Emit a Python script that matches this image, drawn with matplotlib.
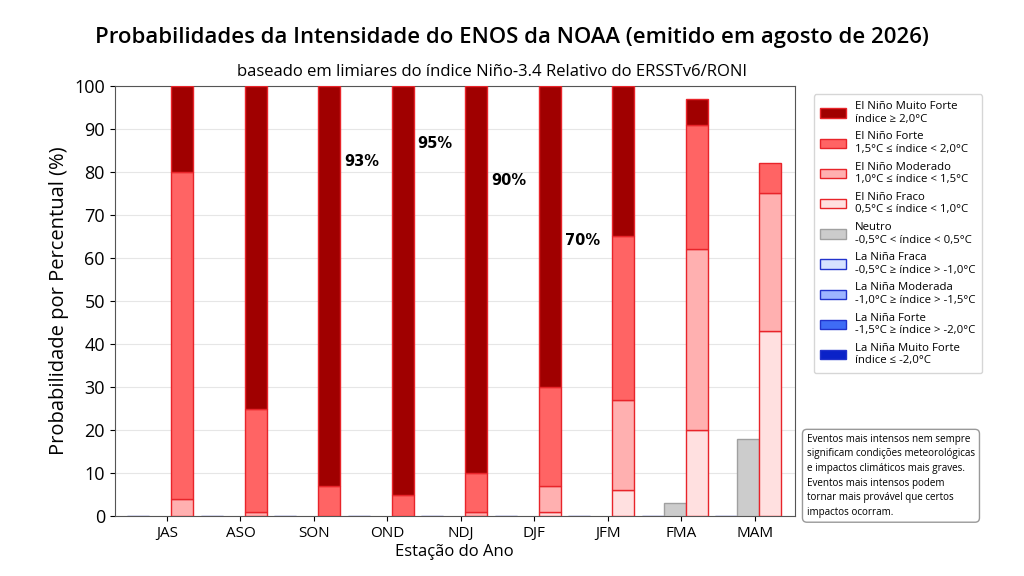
import matplotlib
matplotlib.use("Agg")
import matplotlib.pyplot as plt
import matplotlib.patches as mpatches
import numpy as np

plt.rcParams['font.family'] = ['Open Sans', 'DejaVu Sans']

seasons = ["JAS", "ASO", "SON", "OND", "NDJ", "DJF", "JFM", "FMA", "MAM"]

# El Nino categories (stacked, %)
nino_fraco = [0, 0, 0, 0, 0, 1, 6, 20, 43]
nino_moderado = [4, 1, 0, 0, 1, 6, 21, 42, 32]
nino_forte = [76, 24, 7, 5, 9, 23, 38, 29, 7]
nino_muito_forte = [20, 75, 93, 95, 90, 70, 35, 6, 0]
neutro = [0, 0, 0, 0, 0, 0, 0, 3, 18]
# La Nina categories (%)
nina_fraca = [0, 0, 0, 0, 0, 0, 0, 0, 0]
nina_moderada = [0, 0, 0, 0, 0, 0, 0, 0, 0]
nina_forte = [0, 0, 0, 0, 0, 0, 0, 0, 0]
nina_muito_forte = [0, 0, 0, 0, 0, 0, 0, 0, 0]

# percentage annotations
pct_labels = ["93%", "95%", "90%", "70%"]
pct_idx = [2, 3, 4, 5]
pct_y = [82.5, 86.5, 78, 64]

nino_labels = [
    "El Niño Muito Forte\níndice ≥ 2,0°C",
    "El Niño Forte\n1,5°C ≤ índice < 2,0°C",
    "El Niño Moderado\n1,0°C ≤ índice < 1,5°C",
    "El Niño Fraco\n0,5°C ≤ índice < 1,0°C",
]
neutro_label = "Neutro\n-0,5°C < índice < 0,5°C"
nina_labels = [
    "La Niña Fraca\n-0,5°C ≥ índice > -1,0°C",
    "La Niña Moderada\n-1,0°C ≥ índice > -1,5°C",
    "La Niña Forte\n-1,5°C ≥ índice > -2,0°C",
    "La Niña Muito Forte\níndice ≤ -2,0°C",
]

nino_colors = ["#a00000", "#ff6464", "#ffb0b0", "#ffe0e0"]
nino_edge = "#e8242a"
neutro_color = "#cccccc"
neutro_edge = "#a0a0a0"
nina_colors = ["#d6e2ff", "#9db4ff", "#3f6cf5", "#0a22c8"]
nina_edge = "#2233cc"

fig = plt.figure(figsize=(10.24, 5.76), dpi=100)
ax = fig.add_axes([0.112, 0.104, 0.664, 0.747])

x = np.arange(len(seasons))
w = 0.3

# La Nina stack (left)
bottom = np.zeros(len(seasons))
for vals, col in zip([nina_fraca, nina_moderada, nina_forte, nina_muito_forte], nina_colors):
    ax.bar(x - 0.39, vals, w, bottom=bottom, color=col, edgecolor="#5060c0", linewidth=0.8, zorder=3)
    bottom += np.array(vals)

# Neutral (middle)
ax.bar(x - 0.09, neutro, w, color=neutro_color,
       edgecolor=[neutro_edge if t > 0 else "none" for t in neutro], linewidth=1, zorder=3)

# El Nino stack (right)
bottom = np.zeros(len(seasons))
for vals, col in zip([nino_fraco, nino_moderado, nino_forte, nino_muito_forte], nino_colors[::-1]):
    v = np.array(vals)
    ax.bar(x + 0.21, v, w, bottom=bottom, color=col,
           edgecolor=[nino_edge if t > 0 else "none" for t in v], linewidth=1, zorder=3)
    bottom += v

for lab, i, yy in zip(pct_labels, pct_idx, pct_y):
    ax.text(i + 0.65, yy, lab, fontsize=10.5, fontweight="bold", family="DejaVu Sans",
            ha="center", va="center", zorder=4)

ax.set_xlim(-0.71, 8.54)
ax.set_ylim(0, 100)
ax.set_yticks(np.arange(0, 101, 10))
ax.set_xticks(x)
ax.set_xticklabels(seasons, fontsize=11)
ax.tick_params(axis="y", labelsize=13)
ax.grid(axis="y", color="#e6e6e6", linewidth=0.8, zorder=0)
ax.set_axisbelow(True)
for s in ax.spines.values():
    s.set_color("#555555")
ax.set_ylabel("Probabilidade por Percentual (%)", fontsize=14.5)
ax.set_xlabel("Estação do Ano", fontsize=12, labelpad=2)

fig.text(0.5, 0.935, "Probabilidades da Intensidade do ENOS da NOAA (emitido em agosto de 2026)",
         ha="center", va="center", fontsize=15.9, fontweight="semibold")
fig.text(0.48, 0.875, "baseado em limiares do índice Niño-3.4 Relativo do ERSSTv6/RONI",
         ha="center", va="center", fontsize=12)

handles = []
for lab, col in zip(nino_labels, nino_colors):
    handles.append(mpatches.Patch(facecolor=col, edgecolor=nino_edge, label=lab))
handles.append(mpatches.Patch(facecolor=neutro_color, edgecolor=neutro_edge, label=neutro_label))
for lab, col in zip(nina_labels, nina_colors):
    handles.append(mpatches.Patch(facecolor=col, edgecolor=nina_edge, label=lab))

fig.legend(handles=handles, loc="upper left", bbox_to_anchor=(0.789, 0.846),
           fontsize=8.2, labelspacing=0.58, handlelength=2.2, handleheight=0.9,
           borderpad=0.6, frameon=True, fancybox=True, edgecolor="#cccccc")

note = ("Eventos mais intensos nem sempre\nsignificam condições meteorológicas\n"
        "e impactos climáticos mais graves.\nEventos mais intensos podem\n"
        "tornar mais provável que certos\nimpactos ocorram.")
fig.text(0.788, 0.174, note, fontsize=7.1, ha="left", va="center", linespacing=1.45,
         bbox=dict(boxstyle="round,pad=0.45", facecolor="white", edgecolor="#999999"))

fig.savefig("out.png", dpi=100)
